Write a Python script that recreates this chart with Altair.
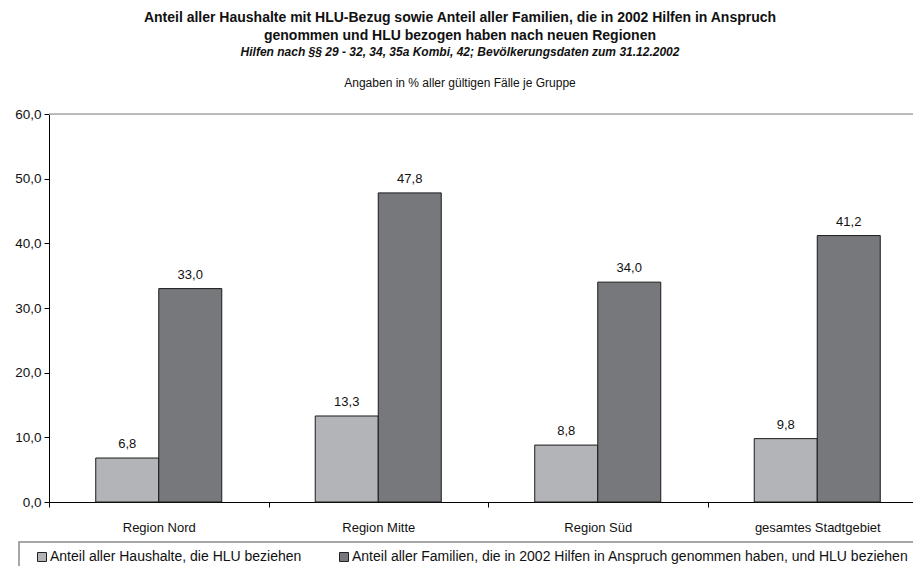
import altair as alt
import pandas as pd

regions = ["Region Nord", "Region Mitte", "Region Süd", "gesamtes Stadtgebiet"]
series = [
    "Anteil aller Haushalte, die HLU beziehen",
    "Anteil aller Familien, die in 2002 Hilfen in Anspruch genommen haben, und HLU beziehen",
]
haushalte = [6.8, 13.3, 8.8, 9.8]
familien = [33.0, 47.8, 34.0, 41.2]
y_ticks = [0, 10, 20, 30, 40, 50, 60]
colors = ["#b2b4b7", "#77787b"]

title_lines = [
    "Anteil aller Haushalte mit HLU-Bezug sowie Anteil aller Familien, die in 2002 Hilfen in Anspruch",
    "genommen und HLU bezogen haben nach neuen Regionen",
]
subtitle = "Hilfen nach §§ 29 - 32, 34, 35a Kombi, 42; Bevölkerungsdaten zum 31.12.2002"
note = "Angaben in % aller gültigen Fälle je Gruppe"

rows = []
for r, h, f in zip(regions, haushalte, familien):
    rows.append({"region": r, "series": series[0], "value": h})
    rows.append({"region": r, "series": series[1], "value": f})
df = pd.DataFrame(rows)

FONT = "Liberation Sans"
W, H = 864, 388

x_enc = alt.X(
    "region:N",
    sort=regions,
    scale=alt.Scale(paddingInner=0, paddingOuter=0, range=[0, 878]),
    axis=alt.Axis(
        title=None,
        labelAngle=0,
        tickBand="extent",
        tickSize=5,
        tickColor="#000",
        domainColor="#000",
        labelFontSize=13,
        labelFont=FONT,
        labelColor="#111",
        labelPadding=14,
        labelBaseline="top",
    ),
)
y_scale = alt.Scale(domain=[0, 60], nice=False)
xoff = alt.XOffset("series:N", sort=series, scale=alt.Scale(paddingInner=0, paddingOuter=0.742))

base = alt.Chart(df)

bars = base.mark_bar(stroke="#1a1a1a", strokeWidth=1).encode(
    x=x_enc,
    xOffset=xoff,
    y=alt.Y(
        "value:Q",
        scale=y_scale,
        axis=alt.Axis(
            title=None,
            values=y_ticks,
            grid=False,
            tickSize=5,
            tickColor="#000",
            domainColor="#000",
            labelFontSize=13.5,
            labelFont=FONT,
            labelColor="#111",
            labelPadding=3,
            labelExpr="replace(format(datum.value, '.1f'), '.', ',')",
        ),
    ),
    color=alt.Color(
        "series:N",
        sort=series,
        scale=alt.Scale(domain=series, range=colors),
        legend=alt.Legend(
            title=None,
            orient="none",
            legendX=-14,
            legendY=436,
            direction="horizontal",
            symbolType="square",
            symbolSize=81,
            symbolStrokeColor="#222",
            symbolStrokeWidth=1,
            labelFontSize=14,
            labelFont=FONT,
            labelColor="#111",
            labelOffset=1,
            columnPadding=35,
            labelLimit=700,
        ),
    ),
)

labels = base.mark_text(
    baseline="bottom", dy=-7, fontSize=13, font=FONT, color="#111"
).transform_calculate(
    label="replace(format(datum.value, '.1f'), '.', ',')"
).encode(
    x=x_enc,
    xOffset=xoff,
    y=alt.Y("value:Q", scale=y_scale),
    text="label:N",
)

top_rule = alt.Chart(pd.DataFrame({"v": [60]})).mark_rule(color="#a8a8a8", strokeWidth=1.5).encode(
    y=alt.Y("v:Q", scale=y_scale)
)

legend_box = alt.Chart(pd.DataFrame({"a": [0]})).mark_rect(
    fill="white", stroke="#8a8a8a", strokeWidth=1.5
).encode(
    x=alt.value(-30), x2=alt.value(900), y=alt.value(428), y2=alt.value(470)
)

def txt(s, y, size, weight="normal", style="normal"):
    return alt.Chart(pd.DataFrame({"a": [0]})).mark_text(
        text=s, fontSize=size, font=FONT, fontWeight=weight, fontStyle=style,
        color="#111", align="center", baseline="middle"
    ).encode(x=alt.value(411), y=alt.value(y))

titles = [
    txt(title_lines[0], -96, 14, "bold"),
    txt(title_lines[1], -78, 14, "bold"),
    txt(subtitle, -62, 12, "bold", "italic"),
    txt(note, -31, 12),
]

chart = alt.layer(legend_box, top_rule, bars, labels, *titles).properties(
    width=W,
    height=H,
    autosize=alt.AutoSizeParams(type="none"),
    padding={"left": 41, "top": 106, "right": 0, "bottom": 64},
).configure_view(stroke=None).configure(background="white")

chart.save("out.html", embed_options={"renderer": "svg", "actions": False})
